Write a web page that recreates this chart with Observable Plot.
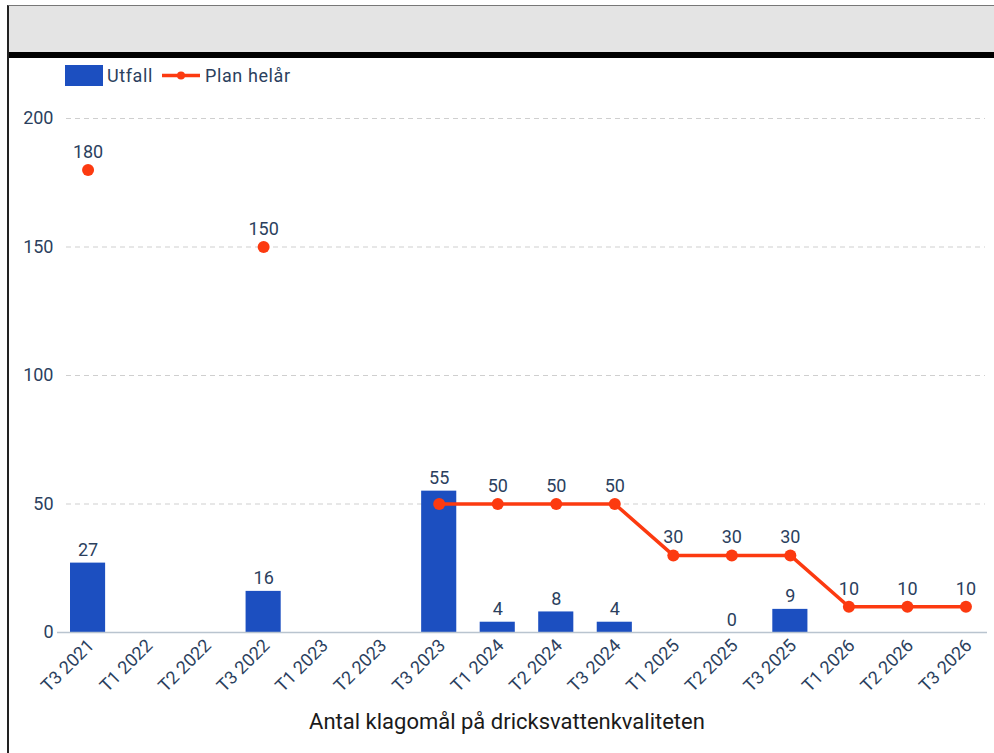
<!DOCTYPE html>
<html><head><meta charset="utf-8">
<script src="https://cdn.jsdelivr.net/npm/d3@7"></script>
<script src="https://cdn.jsdelivr.net/npm/@observablehq/plot@0.6"></script>
<style>
body{margin:0;width:994px;height:753px;overflow:hidden;background:#fff;font-family:Roboto,sans-serif;position:relative}
#frame{position:absolute;left:7px;top:5px;width:990px;height:760px;border-left:2px solid #222;border-top:1px solid #777;}
#head{height:46px;background:#e4e4e4;border-bottom:6px solid #000;}
#legend{position:absolute;left:65px;top:65px;display:flex;align-items:center;font-size:18px;letter-spacing:0.6px;color:#2b3f5e;height:21px}
#legend .sw{width:38px;height:21px;background:#1c4fc0}
#chart{position:absolute;left:0;top:90px}
#title{position:absolute;left:0;width:1014px;top:709px;text-align:center;font-size:22px;color:#1a1a1a}
</style></head>
<body>
<div id="frame"><div id="head"></div></div>
<div id="legend">
  <div class="sw"></div><span style="margin-left:4px">Utfall</span>
  <svg width="38" height="21" style="margin-left:9px"><line x1="0" x2="38" y1="10.5" y2="10.5" stroke="#fc3a10" stroke-width="3.5"/><circle cx="19" cy="10.5" r="4" fill="#fc3a10"/></svg>
  <span style="margin-left:5px">Plan helår</span>
</div>
<div id="chart"></div>
<div id="title">Antal klagomål på dricksvattenkvaliteten</div>
<script>
const categories = ["T3 2021","T1 2022","T2 2022","T3 2022","T1 2023","T2 2023","T3 2023","T1 2024","T2 2024","T3 2024","T1 2025","T2 2025","T3 2025","T1 2026","T2 2026","T3 2026"];
const utfall = [27,null,null,16,null,null,55,4,8,4,null,0,9,null,null,null];
const plan = [180,null,null,150,null,null,50,50,50,50,30,30,30,10,10,10];
const yTicks = [0,50,100,150,200];

const rows = categories.map((c,i)=>({c, u: utfall[i], p: plan[i]}));
const barRows = rows.filter(d=>d.u!=null);
const planRows = rows.filter(d=>d.p!=null);
const planLabelRows = planRows.filter(d=>d.u==null || d.u < d.p);
const textColor = "#2b3f5e";
const blue = "#1c4fc0", red = "#fc3a10";

const chart = Plot.plot({
  width: 994, height: 610,
  marginLeft: 70, marginRight: 11, marginTop: 28, marginBottom: 68,
  style: {fontFamily: "Roboto, sans-serif", fontSize: "18px", color: textColor, background: "transparent", overflow: "visible"},
  x: {domain: categories, paddingInner: 0.4, paddingOuter: 0, round: false, label: null},
  y: {domain: [0, 200], label: null},
  marks: [
    Plot.ruleY(yTicks.filter(t=>t>0), {stroke: "#cfcfcf", strokeDasharray: "5,4", insetLeft: -4, insetRight: -2}),
    Plot.barY(barRows, {x: "c", y: "u", fill: blue}),
    Plot.ruleY([0], {stroke: "#b9c4cf", strokeWidth: 1.5, insetLeft: -13, insetRight: -4}),
    Plot.line(rows, {x: "c", y: "p", stroke: red, strokeWidth: 3.5}),
    Plot.dot(planRows, {x: "c", y: "p", r: 6, fill: red}),
    Plot.text(barRows, {x: "c", y: "u", text: d=>String(d.u), lineAnchor: "bottom", dy: -7, fill: textColor, fontSize: 18}),
    Plot.text(planLabelRows, {x: "c", y: "p", text: d=>String(d.p), lineAnchor: "bottom", dy: -12, fill: textColor, fontSize: 18}),
    Plot.axisY(yTicks, {tickSize: 0, tickPadding: 17, fontSize: 18, fill: textColor, label: null}),
    Plot.axisX({tickRotate: -45, tickSize: 0, tickPadding: 10, dx: 3, fontSize: 18, fill: textColor, label: null})
  ]
});
document.getElementById("chart").appendChild(chart);
</script>
</body></html>
